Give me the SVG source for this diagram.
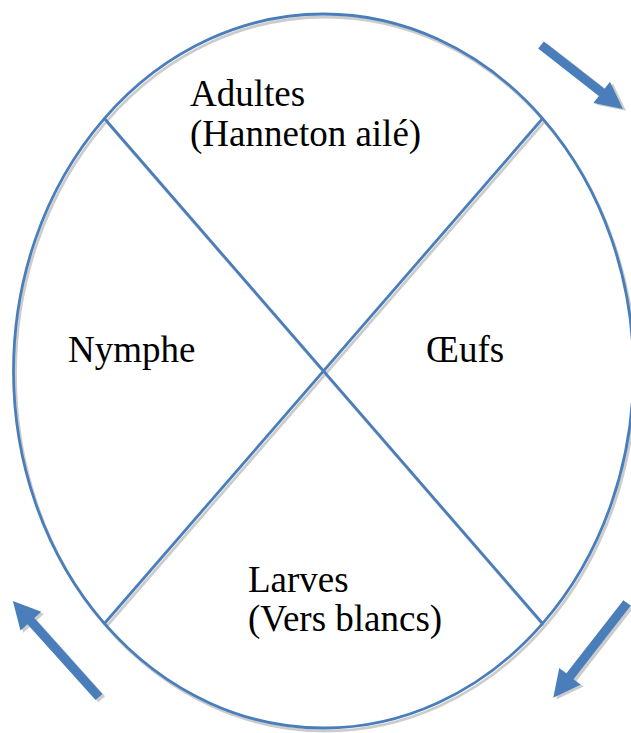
<svg xmlns="http://www.w3.org/2000/svg" width="631" height="733" viewBox="0 0 631 733">
<style>
.ln{fill:none;stroke:#4a7ebb;stroke-width:2.8}
.sh{fill:none;stroke:#cccccc;stroke-width:2.8}
.ar{fill:#4a7ebb}
.ars{fill:#cccccc}
.t{font-family:"Liberation Serif","Times New Roman",serif;font-size:37px;fill:#000}
</style>
<defs>
<polygon id="a1" points="0,-4.6 77,-4.6 77,-13.5 104,0 77,13.5 77,4.6 0,4.6"/>
<polygon id="a2" points="0,-4.6 93,-4.6 93,-13.5 120,0 93,13.5 93,4.6 0,4.6"/>
<polygon id="a3" points="0,-4.6 102,-4.6 102,-14 129,0 102,14 102,4.6 0,4.6"/>
</defs>
<rect width="631" height="733" fill="#fff"/>
<g id="cycle">
<g transform="translate(2,3)">
<ellipse class="sh" cx="323.5" cy="371" rx="310" ry="357"/>
<line class="sh" x1="104" y1="118" x2="543" y2="624"/>
<line class="sh" x1="543" y1="118" x2="104" y2="624"/>
</g>
<ellipse class="ln" cx="323.5" cy="371" rx="310" ry="357"/>
<line class="ln" x1="104" y1="118" x2="543" y2="624"/>
<line class="ln" x1="543" y1="118" x2="104" y2="624"/>
</g>
<g id="adultes">
<text class="t" x="190" y="106">Adultes</text>
<text class="t" x="190" y="146">(Hanneton ailé)</text>
</g>
<g id="nymphe">
<text class="t" x="68" y="362">Nymphe</text>
</g>
<g id="oeufs">
<text class="t" x="426" y="362">Œufs</text>
</g>
<g id="larves">
<text class="t" x="248" y="592">Larves</text>
<text class="t" x="248" y="631">(Vers blancs)</text>
</g>
<g id="connectors">
<g transform="translate(541,45) rotate(38)">
<use href="#a1" class="ars" transform="translate(3.5,-0.5)"/>
<use href="#a1" class="ar"/>
</g>
<g transform="translate(627,603) rotate(127.9)">
<use href="#a2" class="ars" transform="translate(-0.5,-3.5)"/>
<use href="#a2" class="ar"/>
</g>
<g transform="translate(99,697) rotate(-131.9)">
<use href="#a3" class="ars" transform="translate(-3.5,0.5)"/>
<use href="#a3" class="ar"/>
</g>
</g>
</svg>
